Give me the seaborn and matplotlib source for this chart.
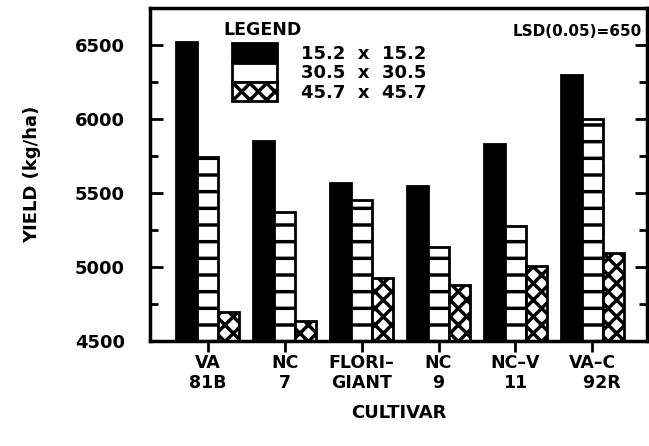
import pandas as pd
import matplotlib.pyplot as plt
import seaborn as sns

# yields (kg/ha)
cultivars = ["VA\n81B", "NC\n7", "FLORI\u2013\nGIANT", "NC\n9", "NC\u2013V\n11", "VA\u2013C\n   92R"]
spacings = ["15.2  x  15.2", "30.5  x  30.5", "45.7  x  45.7"]
y_152 = [6520, 5850, 5570, 5550, 5830, 6295]
y_305 = [5745, 5370, 5455, 5135, 5280, 6000]
y_457 = [4695, 4635, 4930, 4880, 5005, 5095]

df = pd.DataFrame({
    "cultivar": cultivars * 3,
    "spacing": [spacings[0]] * 6 + [spacings[1]] * 6 + [spacings[2]] * 6,
    "yield": y_152 + y_305 + y_457,
})

sns.set_style("ticks")
plt.rcParams["font.family"] = ["DejaVu Sans"]
plt.rcParams["font.weight"] = "bold"
plt.rcParams["hatch.linewidth"] = 2.5
for k in ["text.color", "axes.labelcolor", "xtick.color", "ytick.color", "axes.edgecolor"]:
    plt.rcParams[k] = "black"

fig = plt.figure(figsize=(6.49, 4.46), dpi=100)
ax = fig.add_axes([0.231, 0.235, 0.766, 0.747])

sns.barplot(data=df, x="cultivar", y="yield", hue="spacing",
            palette=["black", "white", "white"], width=0.82, gap=0,
            edgecolor="black", linewidth=2, saturation=1, ax=ax)

hatches = [None, "-", "xx"]
for cont, h in zip(ax.containers, hatches):
    for bar in cont:
        if h:
            bar.set_hatch(h)

ax.set_xlim(-0.75, 5.71)
ax.set_ylim(4500, 6750)
ax.set_yticks([4500, 5000, 5500, 6000, 6500])
ax.set_yticks([4750, 5250, 5750, 6250], minor=True)
ax.tick_params(axis="y", which="both", direction="in", right=True, width=2)
ax.tick_params(axis="y", which="major", length=9, labelsize=13, pad=18)
ax.tick_params(axis="y", which="minor", length=6)
ax.tick_params(axis="x", direction="out", length=8, width=2, labelsize=12.5, pad=1)
for s in ax.spines.values():
    s.set_visible(True)
    s.set_linewidth(2.5)

ax.set_xlabel("CULTIVAR", fontsize=13, fontweight="bold", labelpad=8)
ax.set_ylabel("YIELD (kg/ha)", fontsize=13, fontweight="bold", labelpad=24)

leg = ax.legend(loc="upper left", bbox_to_anchor=(0.166, 0.895),
                frameon=False, fontsize=13,
                handlelength=2.45, handleheight=1.25, handletextpad=1.35,
                labelspacing=0.0, borderaxespad=0, borderpad=0)
# the legend key for the middle spacing is drawn as a plain box
for hnd, h in zip(leg.legend_handles, [None, None, "xx"]):
    hnd.set_edgecolor("black")
    hnd.set_linewidth(2)
    if h:
        hnd.set_hatch(h)
for t in leg.get_texts():
    t.set_fontweight("bold")
ax.text(0.147, 0.935, "LEGEND", transform=ax.transAxes,
        ha="left", va="center", fontsize=12.5, fontweight="bold")

ax.text(0.99, 0.93, "LSD(0.05)=650", transform=ax.transAxes,
        ha="right", va="center", fontsize=11, fontweight="bold")

fig.savefig("out.png", dpi=100)
